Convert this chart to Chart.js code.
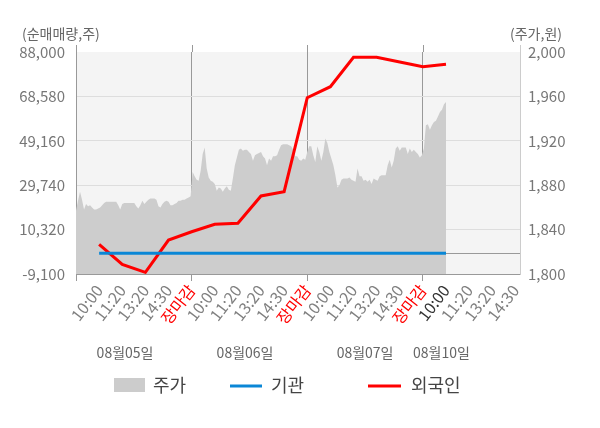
<!DOCTYPE html>
<html><head><meta charset="utf-8">
<script src="https://cdn.jsdelivr.net/npm/chart.js@4.4.1/dist/chart.umd.min.js"></script>
<style>html,body{margin:0;padding:0;background:#fff}#wrap{width:600px;height:428px;position:relative}</style>
</head><body><div id="wrap"><canvas id="c" width="600" height="428"></canvas></div>
<script>
const xLabels = ['10:00','11:20','13:20','14:30','장마감','10:00','11:20','13:20','14:30','장마감','10:00','11:20','13:20','14:30','장마감','10:00','11:20','13:20','14:30'];
const dayLabels = ['08월05일','08월06일','08월07일','08월10일'];
const foreignValues = [3900,-4860,-8360,5770,9360,12640,13080,25020,26900,68010,72830,85690,85690,83630,81570,82620];
const institutionValues = [0,0,0,0,0,0,0,0,0,0,0,0,0,0,0,0];
const priceValues = [
1857,1866,1874,1867,1858,1863,1861,1862,1860,1858,
1858,1859,1860,1862,1864,1865,1865,1865,1865,1865,
1865,1862,1858,1863,1864,1864,1864,1864,1864,1864,
1861,1859,1862,1866,1863,1865,1867,1868,1868,1868,
1867,1861,1860,1863,1865,1866,1865,1862,1862,1863,
1864,1866,1866,1867,1867,1868,1869,1870,1892,1888,
1885,1884,1893,1908,1914,1895,1887,1884,1883,1881,
1875,1878,1877,1874,1877,1879,1876,1875,1886,1898,
1905,1912,1913,1911,1912,1912,1910,1908,1902,1907,
1908,1909,1910,1906,1904,1898,1904,1902,1906,1906,
1907,1912,1916,1917,1917,1917,1916,1915,1912,1906,
1906,1903,1902,1904,1903,1910,1915,1915,1907,1901,
1915,1910,1902,1910,1922,1918,1910,1904,1898,1889,
1878,1880,1885,1886,1886,1886,1887,1885,1884,1883,
1895,1888,1888,1884,1885,1883,1885,1881,1886,1885,
1884,1888,1889,1889,1889,1898,1903,1896,1902,1913,
1915,1911,1914,1914,1914,1908,1913,1910,1912,1910,
1908,1905,1907,1913,1934,1935,1930,1934,1937,1938,
1942,1946,1948,1953,1955];
const leftMin = -9100, leftMax = 88000, leftStep = 19420;
const rightMin = 1800, rightMax = 2000, rightStep = 40;

const FONT = '"Noto Sans CJK KR", "Noto Sans", sans-serif';
Chart.defaults.font.family = FONT;

const lastSlot = foreignValues.length;
const priceData = priceValues.map((v, i) => ({x: i * lastSlot / (priceValues.length - 1), y: v}));
const foreignData = foreignValues.map((v, i) => ({x: i + 1, y: v}));
const instData = institutionValues.map((v, i) => ({x: i + 1, y: v}));
const isDay = v => v % 5 === 0;

const deco = {
  id: 'deco',
  beforeDraw(chart) {
    const {ctx, chartArea: a} = chart;
    ctx.save();
    ctx.fillStyle = '#f4f4f4';
    ctx.fillRect(a.left, a.top, a.right - a.left, a.bottom - a.top);
    ctx.restore();
  },
  beforeDatasetsDraw(chart) {
    const {ctx, chartArea: a, scales} = chart;
    ctx.save();
    const y0 = Math.round(scales.y.getPixelForValue(0)) + 0.5;
    ctx.strokeStyle = '#999999'; ctx.lineWidth = 1;
    ctx.beginPath(); ctx.moveTo(a.left, y0); ctx.lineTo(a.right, y0); ctx.stroke();
    [0, 5, 10, 15].forEach(v => {
      const x = Math.round(scales.x.getPixelForValue(v)) + 0.5;
      ctx.beginPath(); ctx.moveTo(x, a.top - 7); ctx.lineTo(x, a.top); ctx.stroke();
    });
    ctx.strokeStyle = '#cccccc';
    const xr = Math.round(a.right) + 0.5;
    ctx.beginPath(); ctx.moveTo(xr, a.top - 7); ctx.lineTo(xr, a.top); ctx.stroke();
    ctx.restore();
  },
  afterDraw(chart) {
    const {ctx, scales} = chart;
    ctx.save();
    ctx.textBaseline = 'middle';
    ctx.font = '14px ' + FONT;
    ctx.fillStyle = '#666666';
    ctx.textAlign = 'left';
    ctx.fillText('(순매매량,주)', 22, 34);
    ctx.textAlign = 'right';
    ctx.fillText('(주가,원)', 562, 34);
    ctx.textAlign = 'center';
    const dayPos = [2.12, 7.31, 12.5, 15.8];
    dayLabels.forEach((t, i) => ctx.fillText(t, scales.x.getPixelForValue(dayPos[i]), 353));
    ctx.font = '18px ' + FONT;
    ctx.fillStyle = '#cccccc';
    ctx.fillRect(114, 378, 31, 14);
    ctx.lineWidth = 3;
    ctx.strokeStyle = '#0a87d6';
    ctx.beginPath(); ctx.moveTo(230, 386); ctx.lineTo(262, 386); ctx.stroke();
    ctx.strokeStyle = '#ff0000';
    ctx.beginPath(); ctx.moveTo(368, 386); ctx.lineTo(401, 386); ctx.stroke();
    ctx.fillStyle = '#444444';
    ctx.textAlign = 'left';
    ctx.fillText('주가', 153, 385);
    ctx.fillText('기관', 271, 385);
    ctx.fillText('외국인', 411, 385);
    ctx.restore();
  }
};

new Chart(document.getElementById('c'), {
  type: 'line',
  data: {
    datasets: [
      {label: '기관', data: instData, yAxisID: 'y', borderColor: '#0a87d6', borderWidth: 3, pointRadius: 0, tension: 0, order: 1},
      {label: '외국인', data: foreignData, yAxisID: 'y', borderColor: '#ff0000', borderWidth: 3, pointRadius: 0, tension: 0, order: 2},
      {label: '주가', data: priceData, yAxisID: 'y2', borderWidth: 0, borderColor: 'rgba(0,0,0,0)', backgroundColor: '#cdcdcd', fill: 'start', pointRadius: 0, tension: 0, order: 3}
    ]
  },
  options: {
    responsive: false,
    animation: false,
    events: [],
    layout: {padding: {top: 52, left: 0, right: 0, bottom: 0}},
    plugins: {legend: {display: false}, tooltip: {enabled: false}},
    scales: {
      x: {
        type: 'linear', min: 0, max: 19.2,
        afterBuildTicks(scale) { scale.ticks = xLabels.map((_, i) => ({value: i + 1})).concat([{value: 0}]); },
        afterFit(scale) { scale.height = 154; },
        border: {color: '#999999'},
        grid: {
          drawOnChartArea: true,
          color: c => (c.tick && isDay(c.tick.value)) ? '#999999' : 'rgba(0,0,0,0)',
          tickColor: c => (c.tick && isDay(c.tick.value)) ? '#999999' : 'rgba(0,0,0,0)',
          tickLength: 7
        },
        ticks: {
          autoSkip: false, maxRotation: 52, minRotation: 52, padding: 0,
          font: {size: 16},
          color: c => {
            const v = c.tick.value;
            if (v === 0) return '#808080';
            const t = xLabels[v - 1];
            if (t === '장마감') return '#ff0000';
            if (v === 16) return '#333333';
            return '#808080';
          },
          callback: v => v === 0 ? '' : xLabels[v - 1]
        }
      },
      y: {
        position: 'left', min: leftMin, max: leftMax,
        afterFit(scale) { scale.width = 76; },
        border: {color: '#999999'},
        grid: {color: c => c.tick.value === leftMax ? 'rgba(0,0,0,0)' : '#dddddd', drawTicks: false},
        ticks: {stepSize: leftStep, padding: 11, color: '#777777', font: {size: 15}, callback: v => v.toLocaleString('en-US')}
      },
      y2: {
        position: 'right', min: rightMin, max: rightMax,
        afterFit(scale) { scale.width = 80; },
        border: {color: '#cccccc'},
        grid: {display: false, drawTicks: false},
        ticks: {stepSize: rightStep, padding: 8, color: '#777777', font: {size: 15}, callback: v => v.toLocaleString('en-US')}
      }
    }
  },
  plugins: [deco]
});
</script></body></html>
